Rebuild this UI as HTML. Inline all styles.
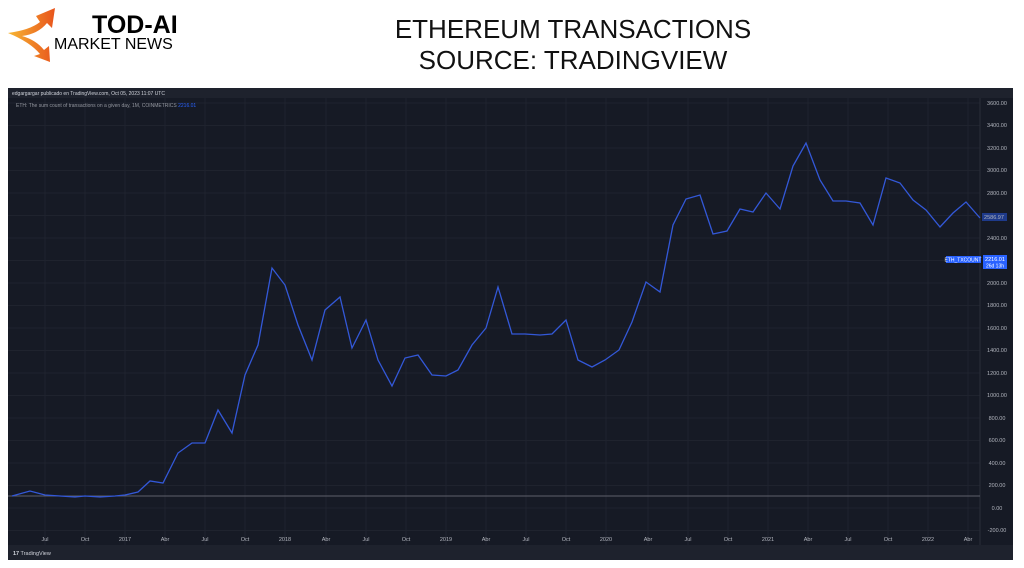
<!DOCTYPE html>
<html><head><meta charset="utf-8"><style>
body{margin:0;width:1024px;height:568px;background:#fff;overflow:hidden;font-family:"Liberation Sans",sans-serif;position:relative}
.t{position:absolute;left:0;width:1146px;text-align:center;font-size:26px;color:#111}
</style></head><body>
<svg style="position:absolute;left:0;top:0" width="90" height="70" viewBox="0 0 90 70">
<defs><linearGradient id="g" x1="0" y1="0" x2="1" y2="0"><stop offset="0" stop-color="#f7b733"/><stop offset="1" stop-color="#e8541c"/></linearGradient></defs>
<path d="M8 33 Q30 30 40 22 L36 16 L55 8 L52 28 L47 23 Q38 34 22 36 Q36 40 44 50 L49 46 L50 62 L34 56 L40 54 Q30 42 8 33Z" fill="url(#g)"/>
</svg>
<div style="position:absolute;left:92px;top:11px;font-size:25px;font-weight:bold;color:#000">TOD-AI</div>
<div style="position:absolute;left:54px;top:36px;font-size:16px;color:#000">MARKET NEWS</div>
<div class="t" style="top:14px">ETHEREUM TRANSACTIONS</div>
<div class="t" style="top:45px">SOURCE: TRADINGVIEW</div>
<svg style="position:absolute;left:0;top:0" width="1024" height="568">
<rect x="8" y="88" width="1005" height="472" fill="#161a25"/>
<rect x="8" y="88" width="1005" height="10" fill="#1e222d"/>
<rect x="8" y="545" width="1005" height="15" fill="#1e222d"/>
<g stroke="#1f232e" stroke-width="1">
<line x1="8" x2="980" y1="103" y2="103"/><line x1="8" x2="980" y1="125.5" y2="125.5"/><line x1="8" x2="980" y1="148" y2="148"/><line x1="8" x2="980" y1="170.5" y2="170.5"/><line x1="8" x2="980" y1="193" y2="193"/><line x1="8" x2="980" y1="215.5" y2="215.5"/><line x1="8" x2="980" y1="238" y2="238"/><line x1="8" x2="980" y1="260.5" y2="260.5"/><line x1="8" x2="980" y1="283" y2="283"/><line x1="8" x2="980" y1="305.5" y2="305.5"/><line x1="8" x2="980" y1="328" y2="328"/><line x1="8" x2="980" y1="350.5" y2="350.5"/><line x1="8" x2="980" y1="373" y2="373"/><line x1="8" x2="980" y1="395.5" y2="395.5"/><line x1="8" x2="980" y1="418" y2="418"/><line x1="8" x2="980" y1="440.5" y2="440.5"/><line x1="8" x2="980" y1="463" y2="463"/><line x1="8" x2="980" y1="485.5" y2="485.5"/><line x1="8" x2="980" y1="508" y2="508"/><line x1="8" x2="980" y1="530.5" y2="530.5"/>
<line x1="45" x2="45" y1="98" y2="545"/><line x1="85" x2="85" y1="98" y2="545"/><line x1="125" x2="125" y1="98" y2="545"/><line x1="165" x2="165" y1="98" y2="545"/><line x1="205" x2="205" y1="98" y2="545"/><line x1="245" x2="245" y1="98" y2="545"/><line x1="285" x2="285" y1="98" y2="545"/><line x1="326" x2="326" y1="98" y2="545"/><line x1="366" x2="366" y1="98" y2="545"/><line x1="406" x2="406" y1="98" y2="545"/><line x1="446" x2="446" y1="98" y2="545"/><line x1="486" x2="486" y1="98" y2="545"/><line x1="526" x2="526" y1="98" y2="545"/><line x1="566" x2="566" y1="98" y2="545"/><line x1="606" x2="606" y1="98" y2="545"/><line x1="648" x2="648" y1="98" y2="545"/><line x1="688" x2="688" y1="98" y2="545"/><line x1="728" x2="728" y1="98" y2="545"/><line x1="768" x2="768" y1="98" y2="545"/><line x1="808" x2="808" y1="98" y2="545"/><line x1="848" x2="848" y1="98" y2="545"/><line x1="888" x2="888" y1="98" y2="545"/><line x1="928" x2="928" y1="98" y2="545"/><line x1="968" x2="968" y1="98" y2="545"/>
</g>
<line x1="980" x2="980" y1="98" y2="545" stroke="#2a2e39"/>
<line x1="8" x2="980" y1="496" y2="496" stroke="#5d606b" stroke-width="1"/>
<polyline fill="none" stroke="#3358d8" stroke-width="1.3" points="12,496 30,491 45,495 60,496 75,497 85,496 100,497 115,496 125,495 138,492 150,481 163,483 178,453 192,443 205,443 218,410 232,433 245,375 258,345 272,268 285,285 298,325 312,360 325,310 340,297 352,348 366,320 378,360 392,386 405,358 418,355 432,375 446,376 458,370 472,345 486,328 498,287 512,334 525,334 540,335 552,334 566,320 578,360 592,367 605,360 619,350 632,322 646,282 660,292 673,225 686,199 700,195 713,234 727,231 740,209 753,212 766,193 780,209 793,166 806,143 820,180 833,201 846,201 860,203 873,225 886,178 900,183 913,200 926,210 940,227 953,213 966,202 980,218"/>
<g fill="#b2b5be" font-size="5.5" font-family="Liberation Sans,sans-serif" text-anchor="middle">
<text x="997" y="105">3600.00</text><text x="997" y="127">3400.00</text><text x="997" y="150">3200.00</text><text x="997" y="172">3000.00</text><text x="997" y="195">2800.00</text><text x="997" y="240">2400.00</text><text x="997" y="285">2000.00</text><text x="997" y="307">1800.00</text><text x="997" y="330">1600.00</text><text x="997" y="352">1400.00</text><text x="997" y="375">1200.00</text><text x="997" y="397">1000.00</text><text x="997" y="420">800.00</text><text x="997" y="442">600.00</text><text x="997" y="465">400.00</text><text x="997" y="487">200.00</text><text x="997" y="510">0.00</text><text x="997" y="532">-200.00</text>
<text x="45" y="541">Jul</text><text x="85" y="541">Oct</text><text x="125" y="541">2017</text><text x="165" y="541">Abr</text><text x="205" y="541">Jul</text><text x="245" y="541">Oct</text><text x="285" y="541">2018</text><text x="326" y="541">Abr</text><text x="366" y="541">Jul</text><text x="406" y="541">Oct</text><text x="446" y="541">2019</text><text x="486" y="541">Abr</text><text x="526" y="541">Jul</text><text x="566" y="541">Oct</text><text x="606" y="541">2020</text><text x="648" y="541">Abr</text><text x="688" y="541">Jul</text><text x="728" y="541">Oct</text><text x="768" y="541">2021</text><text x="808" y="541">Abr</text><text x="848" y="541">Jul</text><text x="888" y="541">Oct</text><text x="928" y="541">2022</text><text x="968" y="541">Abr</text>
</g>
<rect x="982" y="213" width="25" height="8" fill="#1e3a8a"/>
<text x="994" y="219" fill="#b2b5be" font-size="5.5" text-anchor="middle" font-family="Liberation Sans,sans-serif">2586.97</text>
<rect x="946" y="256" width="35" height="7" fill="#2962ff"/>
<text x="963" y="261.5" fill="#fff" font-size="5" text-anchor="middle" font-family="Liberation Sans,sans-serif">ETH_TXCOUNT</text>
<rect x="983" y="255" width="24" height="14" fill="#2962ff"/>
<text x="995" y="261" fill="#fff" font-size="5.5" text-anchor="middle" font-family="Liberation Sans,sans-serif">2216.01</text>
<text x="995" y="267.5" fill="#fff" font-size="5" text-anchor="middle" font-family="Liberation Sans,sans-serif">26d 13h</text>
<text x="12" y="95" fill="#d1d4dc" font-size="5" font-family="Liberation Sans,sans-serif">edgargargar publicado en TradingView.com, Oct 05, 2023 11:07 UTC</text>
<text x="16" y="107" fill="#9598a1" font-size="5" font-family="Liberation Sans,sans-serif">ETH: The sum count of transactions on a given day, 1M, COINMETRICS <tspan fill="#2962ff">2216.01</tspan></text>
<text x="13" y="555" fill="#d1d4dc" font-size="5.5" font-family="Liberation Sans,sans-serif"><tspan font-weight="bold">17</tspan> TradingView</text>
</svg>
</body></html>
